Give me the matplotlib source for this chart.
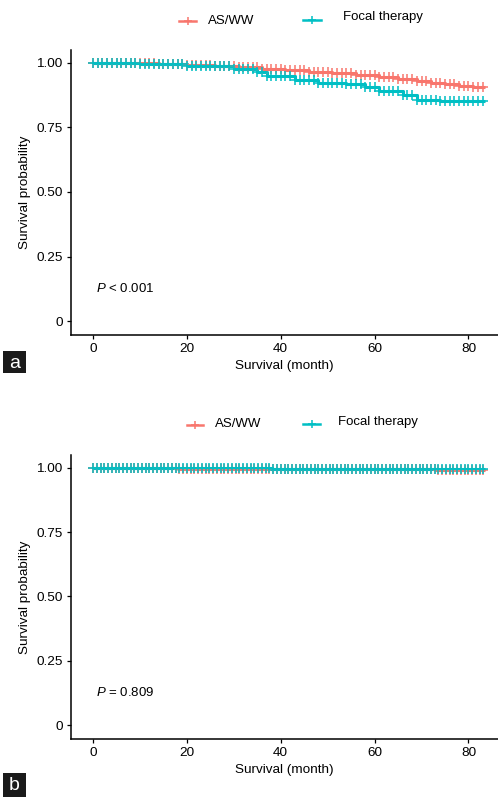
import numpy as np
import matplotlib
matplotlib.use("Agg")
import matplotlib.pyplot as plt
from matplotlib.lines import Line2D

plt.rcParams['font.family'] = ['Liberation Sans', 'DejaVu Sans']
plt.rcParams['mathtext.fontset'] = 'custom'
plt.rcParams['mathtext.it'] = 'Liberation Sans:italic'
plt.rcParams['mathtext.rm'] = 'Liberation Sans'

groups = ["AS/WW", "Focal therapy"]
colors = ["#F8766D", "#00BFC4"]

# Panel a: step times (month) and survival probability
a_asww_t = [0, 8, 14, 20, 26, 31, 36, 41, 46, 51, 56, 61, 65, 69, 72, 75, 78, 81, 83.5]
a_asww_s = [1.0, 0.998, 0.995, 0.991, 0.987, 0.983, 0.978, 0.972, 0.966, 0.960, 0.953,
            0.946, 0.939, 0.931, 0.924, 0.917, 0.911, 0.906, 0.906]
a_focal_t = [0, 10, 20, 30, 35, 37, 43, 48, 54, 58, 61, 66, 69, 74, 83.5]
a_focal_s = [1.0, 0.995, 0.987, 0.978, 0.965, 0.948, 0.935, 0.924, 0.918, 0.908, 0.892,
             0.874, 0.857, 0.851, 0.851]

# Panel b
b_asww_t = [0, 18, 73, 83.5]
b_asww_s = [1.0, 0.995, 0.990, 0.990]
b_focal_t = [0, 38, 83.5]
b_focal_s = [1.0, 0.996, 0.996]

a_censor_months = [0, 1, 2, 3, 4, 5, 6, 7, 8, 9, 10, 11, 12, 13, 14, 15, 16, 17, 18, 19, 20,
                   21, 22, 23, 24, 25, 26, 27, 28, 29, 30, 31, 32, 33, 34, 35, 36, 37, 38, 39,
                   40, 41, 42, 43, 44, 45, 46, 47, 48, 49, 50, 51, 52, 53, 54, 55, 56, 57, 58,
                   59, 60, 61, 62, 63, 64, 65, 66, 67, 68, 69, 70, 71, 72, 73, 74, 75, 76, 77,
                   78, 79, 80, 81, 82, 83]
b_censor_months = [0, 0.8, 1.6, 2.4, 3.2, 4.0, 4.8, 5.6, 6.4, 7.2, 8.0, 8.8, 9.6, 10.4, 11.2,
                   12.0, 12.8, 13.6, 14.4, 15.2, 16.0, 16.8, 17.6, 18.4, 19.2, 20.0, 20.8, 21.6,
                   22.4, 23.2, 24.0, 24.8, 25.6, 26.4, 27.2, 28.0, 28.8, 29.6, 30.4, 31.2, 32.0,
                   32.8, 33.6, 34.4, 35.2, 36.0, 36.8, 37.6, 38.4, 39.2, 40.0, 40.8, 41.6, 42.4,
                   43.2, 44.0, 44.8, 45.6, 46.4, 47.2, 48.0, 48.8, 49.6, 50.4, 51.2, 52.0, 52.8,
                   53.6, 54.4, 55.2, 56.0, 56.8, 57.6, 58.4, 59.2, 60.0, 60.8, 61.6, 62.4, 63.2,
                   64.0, 64.8, 65.6, 66.4, 67.2, 68.0, 68.8, 69.6, 70.4, 71.2, 72.0, 72.8, 73.6,
                   74.4, 75.2, 76.0, 76.8, 77.6, 78.4, 79.2, 80.0, 80.8, 81.6, 82.4, 83.2]

p_texts = ["< 0.001", "= 0.809"]
panel_labels = ["a", "b"]
yticks = [0, 0.25, 0.5, 0.75, 1.0]
ytick_labels = ["0", "0.25", "0.50", "0.75", "1.00"]
xticks = [0, 20, 40, 60, 80]

W, H = 498, 798
fig = plt.figure(figsize=(W / 100, H / 100), dpi=100)

def fx(px):
    return px / W

def fy(py):
    return 1 - py / H

panels = [
    dict(curves=[(a_asww_t, a_asww_s), (a_focal_t, a_focal_s)], censor=a_censor_months,
         top=50, bottom=335,
         leg=[(179, 196, 21, 208, 21), (303, 321, 20, 343, 17)], lab=(3, 26, 351, 373)),
    dict(curves=[(b_asww_t, b_asww_s), (b_focal_t, b_focal_s)], censor=b_censor_months,
         top=455, bottom=739,
         leg=[(187, 203, 425, 215, 424), (303, 320, 424, 338, 422)], lab=(3, 26, 773, 797)),
]

for i, p in enumerate(panels):
    left, right = 71, 498
    ax = fig.add_axes([fx(left), fy(p['bottom']), fx(right - left), (p['bottom'] - p['top']) / H])
    for (t, s), c in zip(p['curves'], colors):
        t = np.array(t, dtype=float)
        s = np.array(s, dtype=float)
        ax.step(t, s, where='post', color=c, lw=2.2, solid_capstyle='butt', zorder=3)
        cm = np.array([m for m in p['censor'] if m <= t[-1]], dtype=float)
        idx = np.searchsorted(t, cm, side='right') - 1
        ax.plot(cm, s[idx], linestyle='none', marker='+', color=c, ms=6.5, mew=1.1, zorder=4)
    ax.set_xlim(-4.7, 86.3)
    ax.set_ylim(-0.054, 1.05)
    ax.set_yticks(yticks)
    ax.set_yticklabels(ytick_labels)
    ax.set_xticks(xticks)
    for sp in ['top', 'right']:
        ax.spines[sp].set_visible(False)
    for sp in ['left', 'bottom']:
        ax.spines[sp].set_linewidth(1.1)
    ax.tick_params(direction='out', length=3, width=0.9, labelsize=9.7, colors='black', pad=3)
    ax.set_xlabel("Survival (month)", fontsize=9.7, labelpad=3)
    ax.set_ylabel("Survival probability", fontsize=9.7, labelpad=4)
    ax.text(0.7, 0.128, r"$\it{P}$ " + p_texts[i], fontsize=9.5, va='center', ha='left')
    # legend (drawn manually to match positions)
    for (hx0, hx1, hy, tx, ty), c, g in zip(p['leg'], colors, groups):
        fig.add_artist(Line2D([fx(hx0), fx(hx1)], [fy(hy), fy(hy)], color=c, lw=1.8,
                              transform=fig.transFigure))
        fig.add_artist(Line2D([fx((hx0 + hx1) / 2)], [fy(hy)], color=c, marker='+', ms=5.5, mew=1.1,
                              linestyle='none', transform=fig.transFigure))
        fig.text(fx(tx), fy(ty), g, fontsize=9.5, ha='left', va='center')
    # panel label
    x0, x1, y0, y1 = p['lab']
    fig.patches.append(plt.Rectangle((fx(x0), fy(y1)), fx(x1 - x0), (y1 - y0) / H,
                                     transform=fig.transFigure, facecolor='#1a1a1a', edgecolor='none'))
    fig.text(fx((x0 + x1) / 2), fy((y0 + y1) / 2 + 1), panel_labels[i], color='white', fontsize=14,
             ha='center', va='center')

fig.savefig("out.png", dpi=100)
